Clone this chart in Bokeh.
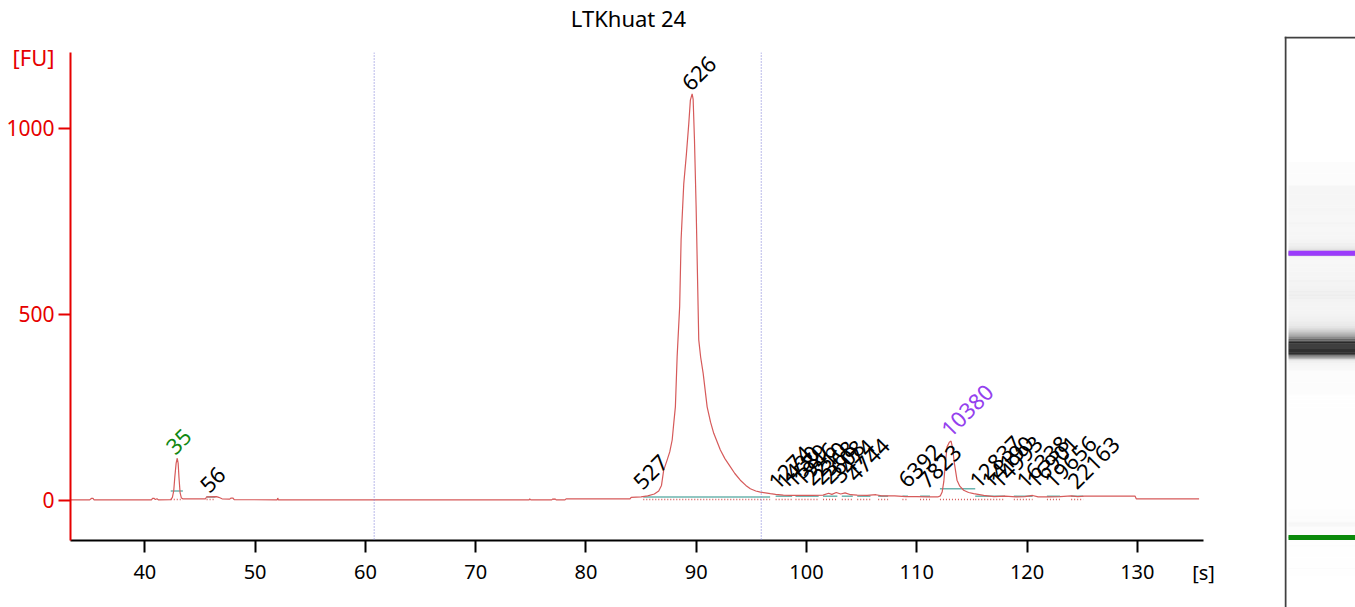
import math

import numpy as np
from bokeh.core.properties import value
from bokeh.embed import file_html
from bokeh.models import ColumnDataSource, FixedTicker, Range1d, Span
from bokeh.plotting import figure
from bokeh.resources import INLINE

title_text = "LTKhuat 24"
y_unit = "[FU]"
x_unit = "[s]"

# electropherogram trace, migration time [s] vs fluorescence [FU]
trace_time = [33.3, 35.0, 35.15, 35.3, 35.4, 40.6, 40.7, 40.85, 40.95, 41.1, 41.25,
              42.35, 42.5, 42.62, 42.72, 42.84, 42.94, 43.02, 43.1, 43.2, 43.32, 43.45,
              45.5, 45.6, 46.5, 46.7, 47.0, 47.7, 47.8, 48.0, 48.1, 52.0, 52.05, 52.12,
              74.85, 74.9, 75.0, 76.9, 77.0, 77.1, 77.2, 77.3, 78.1, 78.2, 84.0, 84.1,
              85.0, 85.6, 86.2, 86.6, 86.85, 87.05, 87.36, 87.6, 87.82, 87.96, 88.11,
              88.27, 88.5, 88.63, 88.87, 89.11, 89.32, 89.47, 89.63, 89.72, 89.84, 89.99,
              90.14, 90.23, 90.4, 90.63, 90.99, 91.3, 91.59, 92.19, 92.6, 93.1, 93.5,
              94.0, 94.5, 94.91, 95.4, 95.82, 96.72, 97.2, 97.9, 98.5, 99.5, 100.5,
              101.5, 102.0, 102.3, 102.7, 103.1, 103.5, 104.0, 104.6, 105.5, 106.3,
              106.8, 108.0, 109.0, 110.0, 111.0, 111.9, 112.14, 112.3, 112.45, 112.59,
              112.75, 112.95, 113.11, 113.25, 113.41, 113.65, 113.9, 114.25, 114.7,
              115.16, 116.07, 117.0, 118.0, 119.0, 119.8, 120.5, 121.0, 122.0, 123.0,
              124.0, 124.6, 125.2, 129.8, 129.9, 135.6]
trace_fu = [1, 1, 5, 5, 1, 1, 5, 5, 2, 4, 1,
            2, 8, 25, 63, 100, 113, 100, 60, 20, 6, 4,
            4, 9, 10, 8, 4, 3, 6, 6, 2, 1, 6, 1,
            1, 4, 1, 1, 4, 2, 4, 1, 1, 4, 4, 8,
            9, 12, 17, 25, 40, 81, 108, 130, 162, 206, 251,
            386, 521, 701, 850, 930, 1010, 1075, 1092, 1078, 970, 790,
            566, 431, 385, 341, 251, 210, 180, 135, 112, 90, 72,
            54, 40, 31, 25, 22, 18, 16, 14, 13, 13, 13,
            14, 19, 16, 21, 17, 20, 15, 14, 13, 15,
            12, 12, 10, 10, 9, 9, 12, 22, 50, 99,
            144, 156, 159, 140, 99, 54, 38, 27, 21,
            18, 13, 10, 11, 9, 10, 13, 9, 9, 10,
            12, 10, 11, 11, 4, 4]

# called peaks: time, height, size label
peak_time = [42.9, 45.98, 85.28, 89.66, 97.53, 98.25, 98.98, 99.79, 100.7, 101.52,
             102.33, 103.24, 104.6, 109.3, 111.1, 113.2, 115.76, 116.85, 117.67,
             120.03, 120.93, 122.56, 124.65]
peak_fu = [113, 10, 19, 1090, 19, 20, 24, 28, 30, 32, 34, 36, 40, 24, 22, 160,
           22, 22, 22, 22, 22, 22, 20]
peak_size = ["35", "56", "527", "626", "1274", "1430", "1589", "1946", "2210", "2368",
             "2608", "3474", "4744", "6392", "7823", "10380", "12837", "14190", "14993",
             "16338", "16901", "19656", "22163"]
peak_color = ["#118811", "black", "black", "black", "black", "black", "black", "black",
              "black", "black", "black", "black", "black", "black", "black", "#9440ee",
              "black", "black", "black", "black", "black", "black", "black"]

# integration windows (start, end, baseline level)
win_start = [42.35, 45.6, 85.2, 97.2, 99.0, 101.5, 103.2, 104.6, 106.5, 108.7, 110.3,
             112.1, 115.3, 118.8, 121.8, 124.0]
win_end = [43.45, 46.4, 96.7, 98.7, 101.1, 102.8, 104.2, 105.8, 107.4, 109.2, 111.2,
           115.3, 118.0, 120.5, 123.0, 125.1]
win_level = [25, 9, 9, 11, 11, 11, 11, 11, 11, 11, 11, 31, 11, 11, 11, 11]

region_bounds = [60.8, 95.9]

x_ticks = [40, 50, 60, 70, 80, 90, 100, 110, 120, 130]
y_ticks = [0, 500, 1000]

marker_time = [42.9, 113.1]
marker_color = ["#0a8a0a", "#9b3bfb"]

FONT = "Noto Sans"
RED = "#e60000"
TRACE = "#d65a5a"

p = figure(width=1284, height=607, x_range=Range1d(33.26, 136.0), y_range=Range1d(-108, 1203),
           output_backend="svg", toolbar_location=None)
p.min_border_left = 70
p.min_border_right = 81
p.min_border_top = 52
p.min_border_bottom = 67
p.outline_line_color = None
p.xgrid.visible = False
p.ygrid.visible = False

p.xaxis.ticker = FixedTicker(ticks=x_ticks)
p.yaxis.ticker = FixedTicker(ticks=y_ticks)
for ax, col in ((p.xaxis, "black"), (p.yaxis, RED)):
    ax.axis_line_color = col
    ax.axis_line_width = 2
    ax.major_tick_line_color = col
    ax.major_tick_line_width = 2
    ax.major_tick_out = 12
    ax.major_tick_in = 0
    ax.minor_tick_out = 0
    ax.minor_tick_in = 0
    ax.major_label_text_color = col
    ax.major_label_text_font = FONT
    ax.major_label_text_font_size = "20px"
p.yaxis.major_label_text_font_size = "21px"
p.xaxis.major_label_standoff = 12
p.yaxis.major_label_standoff = 4

for b in region_bounds:
    p.add_layout(Span(location=b, dimension="height", line_color="#8c8cdc",
                      line_dash="1 2", line_width=1.2))

dot_level = [2] * len(win_start)
p.segment(x0=win_start, y0=dot_level, x1=win_end, y1=dot_level,
          line_color=TRACE, line_dash="1 2", line_width=1.5)
p.segment(x0=win_start, y0=win_level, x1=win_end, y1=win_level,
          line_color="#6cb4ae", line_width=1.5)

p.line(trace_time, trace_fu, line_color=TRACE, line_width=1.2)

lbl = ColumnDataSource(data=dict(x=peak_time, y=peak_fu, t=peak_size, c=peak_color))
p.text(x="x", y="y", text="t", text_color="c", source=lbl, angle=math.pi / 4,
       text_font=value(FONT), text_font_size="22px", text_align="left",
       text_baseline="alphabetic", x_offset=-7, y_offset=-8)

# transparent page-sized layer for the title and the unit captions
o = figure(width=1284, height=607, x_range=Range1d(0, 1284), y_range=Range1d(607, 0),
           output_backend="svg", toolbar_location=None,
           x_axis_location=None, y_axis_location=None)
o.min_border = 0
o.outline_line_color = None
o.background_fill_color = None
o.border_fill_color = None
o.xgrid.visible = False
o.ygrid.visible = False
o.styles = {"position": "absolute", "left": "0px", "top": "0px"}
o.text(x=[628], y=[17], text=[title_text], text_color="black", text_font=value(FONT),
       text_font_size="22px", text_align="center", text_baseline="middle")
o.text(x=[33, 1203], y=[56, 572], text=[y_unit, x_unit], text_color=[RED, "black"],
       text_font=value(FONT), text_font_size=["22px", "20px"], text_align="center",
       text_baseline="middle")

# virtual gel lane, same migration time axis running upwards
g = figure(width=71, height=607, x_range=Range1d(0, 71), y_range=Range1d(25.6, 166.6),
           output_backend="svg", toolbar_location=None,
           x_axis_location=None, y_axis_location=None)
g.min_border = 0
g.min_border_top = 36
g.outline_line_color = None
g.xgrid.visible = False
g.ygrid.visible = False
g.styles = {"position": "absolute", "left": "1284px", "top": "0px"}

t = np.array(trace_time)
edges = np.concatenate([[t[0]], (t[1:] + t[:-1]) / 2, [t[-1]]])
alpha = np.clip(np.array(trace_fu) / 300.0, 0, 1)
g.quad(left=4, right=71, bottom=edges[:-1], top=edges[1:], fill_color="black",
       fill_alpha=alpha, line_color=None)
g.hbar(y=marker_time, height=1.25, left=4, right=71, fill_color=marker_color,
       line_color=None)
g.add_layout(Span(location=1, dimension="height", line_color="#404040", line_width=2))
g.add_layout(Span(location=166.36, dimension="width", line_color="#404040", line_width=2))

open("out.html", "w").write(file_html([p, g, o], INLINE))
